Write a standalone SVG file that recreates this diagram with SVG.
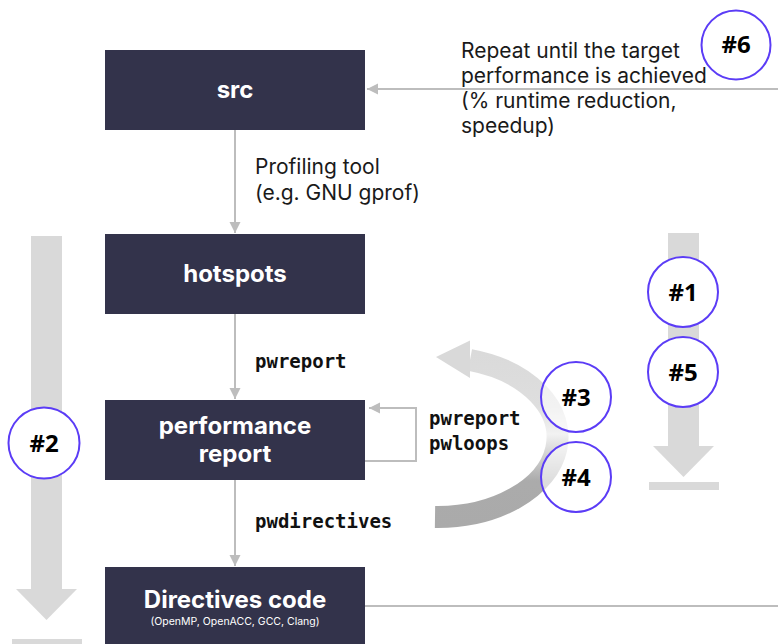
<svg xmlns="http://www.w3.org/2000/svg" width="778" height="644" viewBox="0 0 778 644">
<style>
.box{fill:#33334b}
.nt{font-family:Inter,"Liberation Sans",sans-serif;font-weight:700;font-size:24px;fill:#ffffff;text-anchor:middle}
.sub{font-family:Inter,"Liberation Sans",sans-serif;font-size:10.5px;fill:#ffffff;text-anchor:middle}
.lbl{font-family:Inter,"Liberation Sans",sans-serif;font-size:21px;fill:#1a1a1a}
.mono{font-family:"DejaVu Sans Mono","Liberation Mono",monospace;font-weight:700;font-size:19px;fill:#111111}
.con{stroke:#bdbdbd;stroke-width:2;fill:none}
.big{fill:#d9d9d9}
.badge{fill:#ffffff;stroke:#5b3cf6;stroke-width:2}
.bt{font-family:"Noto Sans","DejaVu Sans",sans-serif;font-weight:700;font-size:24px;fill:#000000;text-anchor:middle}
</style>
<defs>
<marker id="ah" markerUnits="userSpaceOnUse" markerWidth="12" markerHeight="12" refX="11" refY="5.5" orient="auto">
<path d="M0,0 L11,5.5 L0,11 z" fill="#bdbdbd"/>
</marker>
<linearGradient id="cg" gradientUnits="userSpaceOnUse" x1="0" y1="340" x2="0" y2="528">
<stop offset="0" stop-color="#d9d9d9"/>
<stop offset="0.35" stop-color="#dedede"/>
<stop offset="0.5" stop-color="#f2f2f2"/>
<stop offset="0.75" stop-color="#ababab"/>
<stop offset="1" stop-color="#aaaaaa"/>
</linearGradient>
</defs>

<g id="big-arrows">
<rect class="big" x="31" y="236" width="31" height="354"/>
<polygon class="big" points="16,589 77,589 46.5,620"/>
<rect class="big" x="12" y="639" width="70" height="8"/>
<rect class="big" x="668" y="233" width="31" height="214"/>
<polygon class="big" points="653,446 714,446 683.5,477"/>
<rect class="big" x="649" y="482" width="70" height="8"/>
</g>

<g id="connectors">
<line class="con" x1="235" y1="130" x2="235" y2="233" marker-end="url(#ah)"/>
<line class="con" x1="235" y1="314" x2="235" y2="399" marker-end="url(#ah)"/>
<line class="con" x1="235" y1="480" x2="235" y2="566" marker-end="url(#ah)"/>
<polyline class="con" points="365,461 416,461 416,408 369,408" stroke="#c6c6c6" marker-end="url(#ah)"/>
<line class="con" x1="778" y1="89" x2="367" y2="89" marker-end="url(#ah)"/>
<line class="con" x1="365" y1="606" x2="778" y2="606"/>
<path d="M470,360 A120,80 0 0 1 435,517" fill="none" stroke="url(#cg)" stroke-width="22"/>
<polygon points="470,340.5 470,378 436,357" fill="#d9d9d9"/>
</g>

<g id="src">
<rect class="box" x="105" y="50" width="260" height="80"/>
<text class="nt" x="235" y="98">src</text>
</g>
<g id="hotspots">
<rect class="box" x="105" y="234" width="260" height="80"/>
<text class="nt" x="235" y="282">hotspots</text>
</g>
<g id="performance-report">
<rect class="box" x="105" y="400" width="260" height="80"/>
<text class="nt" x="235" y="434">performance</text>
<text class="nt" x="235" y="462">report</text>
</g>
<g id="directives-code">
<rect class="box" x="105" y="567" width="260" height="80"/>
<text class="nt" x="235" y="608">Directives code</text>
<text class="sub" x="235" y="625">(OpenMP, OpenACC, GCC, Clang)</text>
</g>

<g id="labels">
<text class="lbl" x="255" y="174">Profiling tool</text>
<text class="lbl" x="255" y="200">(e.g. GNU gprof)</text>
<text class="mono" x="255" y="368">pwreport</text>
<text class="mono" x="429" y="425">pwreport</text>
<text class="mono" x="429" y="450">pwloops</text>
<text class="mono" x="255" y="528">pwdirectives</text>
</g>

<g id="badge-6">
<circle class="badge" cx="736" cy="45" r="34.5"/>
<text class="bt" x="736" y="53">#6</text>
</g>
<g id="repeat-label">
<text class="lbl" x="461" y="58">Repeat until the target</text>
<text class="lbl" x="461" y="83">performance is achieved</text>
<text class="lbl" x="461" y="108">(% runtime reduction,</text>
<text class="lbl" x="461" y="133">speedup)</text>
</g>
<g id="badge-1">
<circle class="badge" cx="683" cy="292" r="35"/>
<text class="bt" x="683" y="300.5">#1</text>
</g>
<g id="badge-5">
<circle class="badge" cx="683" cy="372" r="35"/>
<text class="bt" x="683" y="380.5">#5</text>
</g>
<g id="badge-3">
<circle class="badge" cx="576" cy="397" r="35" fill-opacity="0.6"/>
<text class="bt" x="576" y="405.5">#3</text>
</g>
<g id="badge-4">
<circle class="badge" cx="576" cy="477" r="35" fill-opacity="0.6"/>
<text class="bt" x="576" y="485.5">#4</text>
</g>
<g id="badge-2">
<circle class="badge" cx="44" cy="443" r="35.5"/>
<text class="bt" x="44" y="451.5">#2</text>
</g>
</svg>
